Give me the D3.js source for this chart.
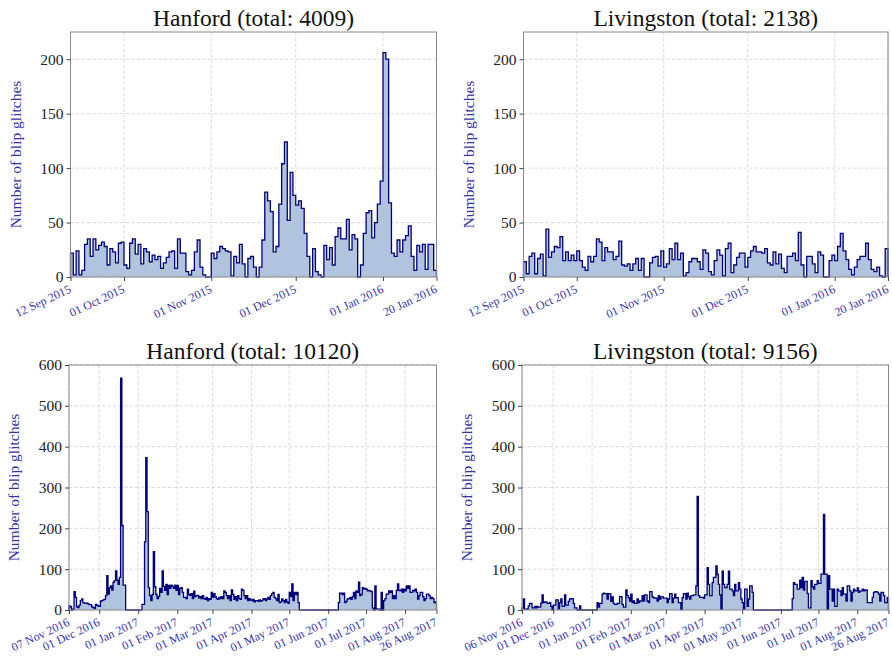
<!DOCTYPE html>
<html>
<head>
<meta charset="utf-8">
<script src="https://cdn.jsdelivr.net/npm/d3@7"></script>
<style>
  body { margin: 0; background: #fff; }
  svg { display: block; }
  text { font-family: "Liberation Serif", "DejaVu Serif", serif; }
</style>
</head>
<body>
<svg id="chart" width="892" height="659"></svg>
<script>
// Daily blip-glitch counts, one value per day from the start date.
const hanfordO1 = [
  22,2,24,2,6,30,35,19,35,25,
  29,32,28,11,26,23,13,31,32,11,
  8,31,35,21,30,12,26,23,14,20,
  16,19,8,13,18,23,24,8,35,22,
  22,5,2,6,23,34,9,2,0,0,
  22,17,23,28,26,24,23,1,19,13,
  30,12,0,17,19,9,0,9,34,78,
  70,60,23,28,67,104,124,52,96,75,
  66,70,63,40,19,0,26,5,2,0,
  29,16,27,11,37,45,35,35,53,25,
  39,35,0,11,40,59,61,36,50,67,
  88,206,200,68,22,19,34,23,34,38,
  47,19,6,29,23,30,7,30,30,6
];
const livingstonO1 = [
  14,3,19,22,3,17,21,1,44,18,
  23,28,27,37,15,23,15,20,15,24,
  15,9,6,19,14,19,35,32,15,27,
  23,23,16,19,33,11,10,12,6,12,
  17,6,17,0,0,13,18,19,10,24,
  9,12,26,16,31,16,22,1,4,14,
  17,17,14,7,25,22,5,2,15,25,
  20,1,26,31,4,11,18,22,22,9,
  18,24,28,23,23,22,26,13,11,23,
  12,21,8,4,19,19,22,15,41,11,
  0,19,19,12,4,23,20,0,0,15,
  20,15,28,40,24,16,7,2,9,16,
  19,19,31,16,7,5,9,1,0,26
];
const hanfordO2 = [
  10,8,0,2,45,31,8,6,12,23,
  27,18,17,16,17,15,13,13,8,6,
  4,14,11,10,9,22,23,25,26,35,
  84,39,55,59,49,68,72,96,73,63,
  80,568,207,61,61,0,0,0,0,0,
  0,0,0,0,0,0,0,0,14,14,
  167,373,241,55,35,23,38,143,57,38,
  28,33,53,43,96,58,48,63,38,60,
  53,61,58,53,61,48,60,38,53,55,
  43,31,31,28,51,38,36,40,28,46,
  33,35,36,30,33,28,35,28,26,31,
  23,28,26,43,31,40,33,28,26,31,
  28,33,28,47,43,35,28,35,23,49,
  38,26,33,23,35,28,26,51,48,35,
  28,35,23,28,25,23,26,20,23,23,
  21,25,22,23,27,28,23,27,31,26,
  35,40,43,31,28,23,38,18,20,27,
  23,18,26,20,16,43,33,64,23,43,
  38,43,18,0,0,0,0,0,0,0,
  0,0,0,0,0,0,0,0,0,0,
  0,0,0,0,0,0,0,0,0,0,
  0,0,0,0,18,41,41,38,41,18,
  21,27,28,30,26,33,43,28,47,43,
  68,35,38,55,51,53,51,47,48,47,
  45,5,0,59,3,2,2,0,43,0,
  23,28,39,39,47,43,47,28,35,28,
  48,64,48,47,51,43,51,47,59,53,
  59,43,43,48,47,51,43,27,35,43,
  43,33,23,28,39,39,35,28,31,28,
  18,20
];
const livingstonO2 = [
  5,27,2,2,3,10,16,16,5,5,
  9,5,9,7,7,17,37,18,20,20,
  16,16,18,9,0,12,12,25,25,3,
  18,27,9,9,37,12,12,21,27,28,
  28,16,5,5,0,0,10,0,0,0,
  0,0,0,0,0,0,0,0,0,0,
  18,7,16,16,39,41,40,40,27,40,
  40,21,32,16,14,14,16,16,33,33,
  14,7,7,49,35,30,22,39,18,22,
  16,16,27,18,22,22,35,22,37,37,
  22,18,45,45,32,30,29,29,22,35,
  27,32,32,29,29,29,18,27,40,40,
  18,29,39,30,30,18,18,1,30,40,
  40,27,41,32,27,35,35,37,37,59,
  278,35,31,31,31,29,37,37,104,63,
  35,35,67,80,80,108,87,63,37,2,
  95,63,55,55,63,95,51,51,47,35,
  63,47,47,67,51,27,18,2,51,51,
  9,27,59,59,43,0,0,0,0,0,
  0,0,0,0,0,0,0,0,0,0,
  0,0,0,0,0,0,0,0,0,0,
  0,0,0,0,0,0,28,67,63,63,
  51,51,73,55,80,49,70,70,40,5,
  5,72,57,51,63,63,72,65,65,88,
  88,234,88,88,2,84,51,51,22,51,
  9,9,51,47,47,35,55,39,39,22,
  59,59,47,22,43,51,47,47,54,43,
  47,47,51,47,49,49,18,18,18,18,
  31,43,45,45,43,39,22,43,43,35,
  18,18,31
];

const detectors = ["Hanford", "Livingston", "Hanford", "Livingston"];
const startDates = ["2015-09-12", "2015-09-12", "2016-11-07", "2016-11-06"];
const endDates = ["2016-01-20", "2016-01-20", "2017-08-26", "2017-08-26"];
const ticksO1 = ["2015-09-12", "2015-10-01", "2015-11-01", "2015-12-01", "2016-01-01", "2016-01-20"];
const ticksHanfordO2 = ["2016-11-07", "2016-12-01", "2017-01-01", "2017-02-01", "2017-03-01", "2017-04-01",
  "2017-05-01", "2017-06-01", "2017-07-01", "2017-08-01", "2017-08-26"];
const ticksLivingstonO2 = ["2016-11-06", "2016-12-01", "2017-01-01", "2017-02-01", "2017-03-01", "2017-04-01",
  "2017-05-01", "2017-06-01", "2017-07-01", "2017-08-01", "2017-08-26"];
const yTicksO1 = [0, 50, 100, 150, 200];
const yTicksO2 = [0, 100, 200, 300, 400, 500, 600];
const yMaxO1 = 225;
const yMaxO2 = 600;

const parse = d3.utcParse("%Y-%m-%d");
const fmt = d3.utcFormat("%d %b %Y");

const svg = d3.select("#chart");
const LINE = "#00007a", FILL = "#b0c4de", BLUE_TEXT = "#3434a8";

const panels = [
  { values: hanfordO1,    name: detectors[0], start: startDates[0], end: endDates[0], ticks: ticksO1, yTicks: yTicksO1, yMax: yMaxO1, box: { l: 70.5, r: 436.5, t: 32, b: 277 } },
  { values: livingstonO1, name: detectors[1], start: startDates[1], end: endDates[1], ticks: ticksO1, yTicks: yTicksO1, yMax: yMaxO1, box: { l: 523.5, r: 888, t: 32, b: 277 } },
  { values: hanfordO2,    name: detectors[2], start: startDates[2], end: endDates[2], ticks: ticksHanfordO2, yTicks: yTicksO2, yMax: yMaxO2, box: { l: 69, r: 436.5, t: 365, b: 610 } },
  { values: livingstonO2, name: detectors[3], start: startDates[3], end: endDates[3], ticks: ticksLivingstonO2, yTicks: yTicksO2, yMax: yMaxO2, box: { l: 522, r: 888.5, t: 365, b: 610 } }
];

panels.forEach(p => {
  const { l, r, t, b } = p.box;
  const start = parse(p.start), end = parse(p.end);
  const x = d3.scaleUtc().domain([start, end]).range([l, r]);
  const y = d3.scaleLinear().domain([0, p.yMax]).range([b, t]);
  const g = svg.append("g");

  // dashed grid
  const tickDates = p.ticks.map(parse);
  g.append("g").selectAll("line").data(tickDates).join("line")
    .attr("x1", d => x(d)).attr("x2", d => x(d)).attr("y1", t).attr("y2", b)
    .attr("stroke", "#d6d6d6").attr("stroke-width", 0.9).attr("stroke-dasharray", "3.5,2");
  g.append("g").selectAll("line").data(p.yTicks).join("line")
    .attr("x1", l).attr("x2", r).attr("y1", d => y(d)).attr("y2", d => y(d))
    .attr("stroke", "#d6d6d6").attr("stroke-width", 0.9).attr("stroke-dasharray", "3.5,2");

  // histogram as a step outline
  const pts = p.values.map((v, i) => ({ t: d3.utcDay.offset(start, i), v }));
  pts.push({ t: end, v: p.values[p.values.length - 1] });
  const area = d3.area().x(d => x(d.t)).y0(y(0)).y1(d => y(d.v)).curve(d3.curveStepAfter);
  g.append("path").datum(pts).attr("d", area).attr("fill", FILL);
  const outline = [{ t: start, v: 0 }, ...pts, { t: end, v: 0 }];
  const line = d3.line().x(d => x(d.t)).y(d => y(d.v)).curve(d3.curveStepAfter);
  g.append("path").datum(outline).attr("d", line)
    .attr("fill", "none").attr("stroke", LINE).attr("stroke-width", 1.3).attr("stroke-linejoin", "miter");

  // frame
  g.append("rect").attr("x", l).attr("y", t).attr("width", r - l).attr("height", b - t)
    .attr("fill", "none").attr("stroke", "#8a8a8a").attr("stroke-width", 1);

  // y axis
  const ya = g.append("g").attr("transform", `translate(${l},0)`)
    .call(d3.axisLeft(y).tickValues(p.yTicks).tickSize(4).tickPadding(3));
  ya.select(".domain").remove();
  ya.selectAll(".tick line").attr("stroke", "#444");
  ya.selectAll(".tick text").attr("font-size", 15.5).attr("fill", "#222")
    .style("font-family", '"Liberation Serif", serif');

  // x axis with slanted date labels
  const xa = g.append("g").attr("transform", `translate(0,${b})`)
    .call(d3.axisBottom(x).tickValues(tickDates).tickSize(4).tickFormat(fmt));
  xa.select(".domain").remove();
  xa.selectAll(".tick line").attr("stroke", "#444");
  xa.selectAll(".tick text")
    .attr("font-size", 12).attr("fill", BLUE_TEXT)
    .attr("text-anchor", "end").attr("dy", 0).attr("y", 0)
    .attr("transform", "translate(1,15) rotate(-25)")
    .style("font-family", '"Liberation Serif", serif');

  // y label
  g.append("text")
    .attr("transform", `translate(${l - 50},${(t + b) / 2}) rotate(-90)`)
    .attr("text-anchor", "middle").attr("font-size", 15.5).attr("fill", BLUE_TEXT)
    .text("Number of blip glitches");

  // title with the total count
  g.append("text")
    .attr("x", (l + r) / 2).attr("y", t - 6)
    .attr("text-anchor", "middle").attr("font-size", 23.5).attr("fill", "#111")
    .text(`${p.name} (total: ${d3.sum(p.values)})`);
});
</script>
</body>
</html>
